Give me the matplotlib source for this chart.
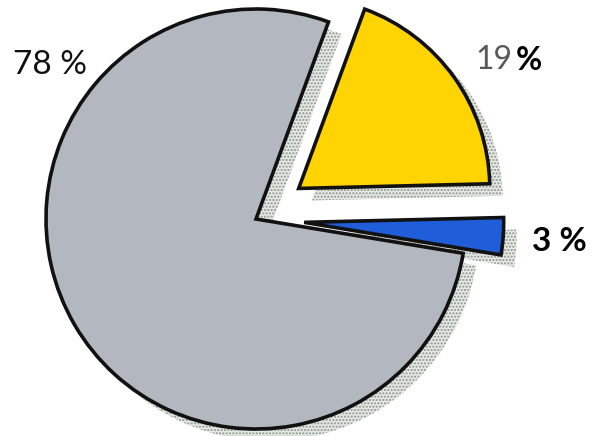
import matplotlib.pyplot as plt

# --- data ---
labels = ["78 %", "3 %", "19 %"]
shares = [78, 3, 19]
colors = ["#b3b7bf", "#1f5ed8", "#ffd400"]
explode_frac = [0.0, 0.23, 0.25]

W, H = 594, 436
fig = plt.figure(figsize=(W / 100, H / 100), dpi=100)
ax = fig.add_axes([0, 0, 1, 1])

cx, cy, r = 256, H - 219, 210
start = 69.8
explode = [e * r for e in explode_frac]  # pie takes the offset in data units

# --- dotted shadow ---
sh, _ = ax.pie(shares, explode=explode, startangle=start, radius=r,
               center=(cx + 13, cy - 12), frame=True,
               wedgeprops=dict(facecolor="#e6e9e3", edgecolor="#8a958e",
                               linewidth=0, hatch="....."))
# --- wedges ---
wedges, _ = ax.pie(shares, explode=explode, startangle=start, radius=r,
                   center=(cx, cy), colors=colors, frame=True,
                   wedgeprops=dict(edgecolor="#111111", linewidth=2.6))
for grp in (sh, wedges):
    grp[1].set_radius(r * 0.95)
    grp[2].set_radius(r * 0.91)
ax.set_xlim(0, W)
ax.set_ylim(0, H)
ax.axis("off")

font = "Lato"
ax.text(50, H - 65, labels[0], fontsize=24, family=font, color="#111111",
        ha="center", va="center")
ax.text(494, H - 60, "19", fontsize=23, family=font, color="#5a5a5a",
        ha="center", va="center")
ax.text(529, H - 60, "%", fontsize=23, family=font, color="#000000",
        ha="center", va="center", fontweight="bold")
ax.text(559, H - 242, labels[1], fontsize=24, family=font, color="#000000",
        ha="center", va="center", fontweight="bold")

fig.savefig("out.png", dpi=100)
